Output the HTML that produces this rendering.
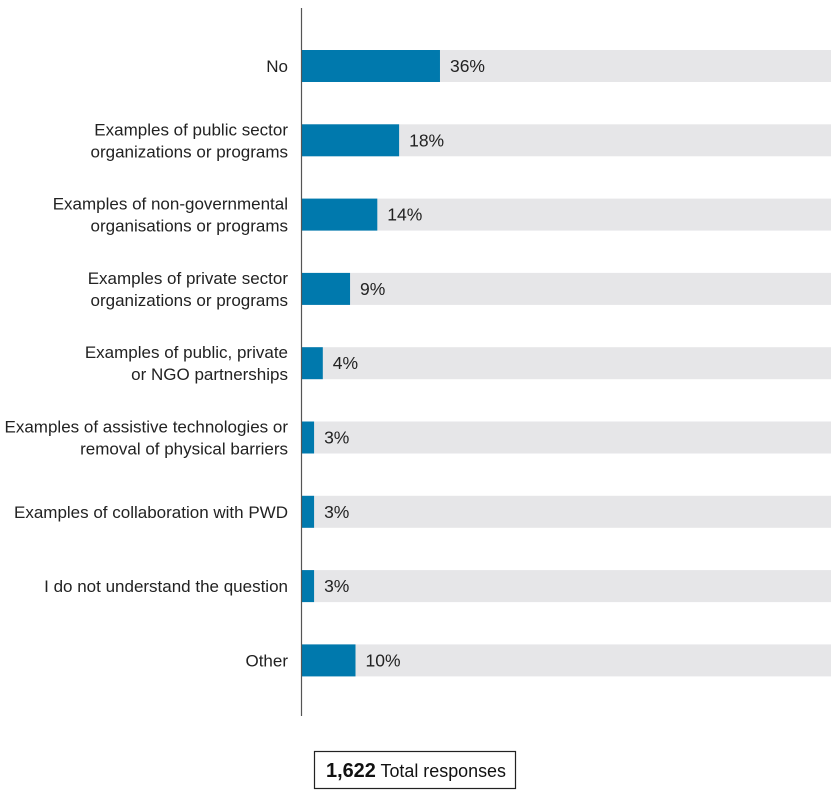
<!DOCTYPE html>
<html><head><meta charset="utf-8"><style>
html,body{margin:0;padding:0;background:#fff;}
svg{display:block;font-family:"Liberation Sans Narrow","Liberation Sans",sans-serif;}
</style></head><body>
<svg id="chart" width="831" height="794" viewBox="0 0 831 794" xmlns="http://www.w3.org/2000/svg">
<g id="bars"></g>
<line x1="301.5" y1="8" x2="301.5" y2="716" stroke="#555" stroke-width="1.2"/>
<g>
<rect x="314.5" y="751.5" width="201" height="37" fill="#fff" stroke="#222" stroke-width="1.2"/>
<text x="326" y="777" font-size="18" fill="#111" textLength="180" lengthAdjust="spacingAndGlyphs"><tspan font-weight="bold" font-size="20">1,622</tspan> Total responses</text>
</g>
</svg>
<script>
const categories = [["No"],["Examples of public sector","organizations or programs"],["Examples of non-governmental","organisations or programs"],["Examples of private sector","organizations or programs"],["Examples of public, private","or NGO partnerships"],["Examples of assistive technologies or","removal of physical barriers"],["Examples of collaboration with PWD"],["I do not understand the question"],["Other"]];
const barValues = [25.5,18,14,9,4,2.4,2.4,2.4,10];
const valueLabels = ["36%","18%","14%","9%","4%","3%","3%","3%","10%"];
const x0=301, pxPer=5.45, firstCenter=66, step=74.3, barH=32;
const xScale=v=>x0+v*pxPer;
const yScale=i=>firstCenter+i*step;
const NS="http://www.w3.org/2000/svg";
const g=document.getElementById('bars');
function mk(tag,attrs){const e=document.createElementNS(NS,tag);for(const k in attrs)e.setAttribute(k,attrs[k]);return e;}
barValues.forEach((v,i)=>{
 const cy=yScale(i);
 const track=mk('rect',{x:x0,y:cy-barH/2,width:831-x0,height:barH,fill:'#e6e6e8'});
 
 
 g.appendChild(track);
 const bar=mk('rect',{x:x0,y:cy-barH/2,width:xScale(v)-x0,height:barH,fill:'#0079ad'});
 
 
 g.appendChild(bar);
 const vl=mk('text',{x:xScale(v)+10,y:cy+6,'font-size':17.5,fill:'#222'});
 vl.textContent=valueLabels[i];
 
 
 g.appendChild(vl);
 const lines=categories[i];
 const t=mk('text',{x:288,y:0,'font-size':17,fill:'#222','text-anchor':'end'});
 
 
 lines.forEach((ln,j)=>{
  const ts=mk('tspan',{x:288,y:cy+6+(j-(lines.length-1)/2)*22});
  ts.textContent=ln;t.appendChild(ts);
 });
 g.appendChild(t);
});
</script>
</body></html>
